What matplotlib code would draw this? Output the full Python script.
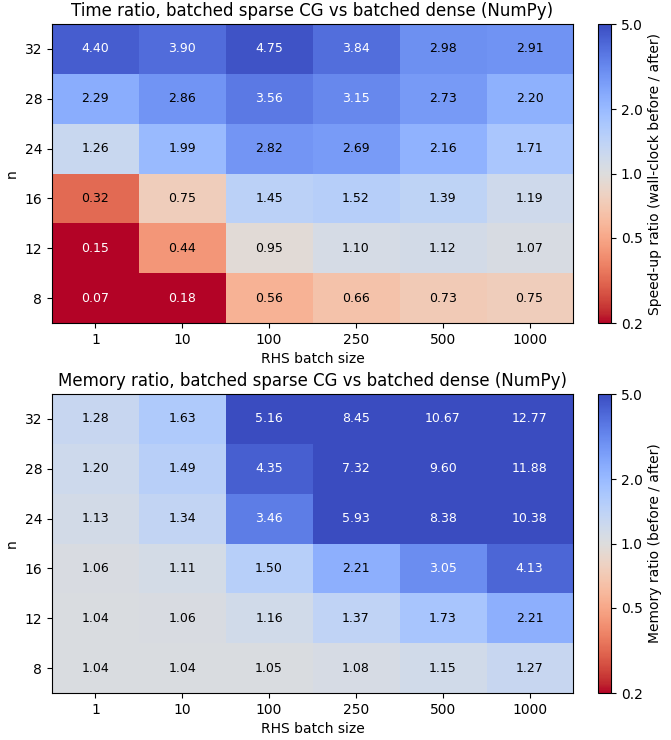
import numpy as np
import matplotlib
matplotlib.use("Agg")
import matplotlib.pyplot as plt
from matplotlib.colors import LogNorm
from matplotlib.ticker import FixedLocator, FixedFormatter

# rows: n (bottom to top), cols: RHS batch size
n_vals = [8, 12, 16, 24, 28, 32]
batch_sizes = [1, 10, 100, 250, 500, 1000]

time_ratio = [
    [0.07, 0.18, 0.56, 0.66, 0.73, 0.75],
    [0.15, 0.44, 0.95, 1.10, 1.12, 1.07],
    [0.32, 0.75, 1.45, 1.52, 1.39, 1.19],
    [1.26, 1.99, 2.82, 2.69, 2.16, 1.71],
    [2.29, 2.86, 3.56, 3.15, 2.73, 2.20],
    [4.40, 3.90, 4.75, 3.84, 2.98, 2.91],
]
mem_ratio = [
    [1.04, 1.04, 1.05, 1.08, 1.15, 1.27],
    [1.04, 1.06, 1.16, 1.37, 1.73, 2.21],
    [1.06, 1.11, 1.50, 2.21, 3.05, 4.13],
    [1.13, 1.34, 3.46, 5.93, 8.38, 10.38],
    [1.20, 1.49, 4.35, 7.32, 9.60, 11.88],
    [1.28, 1.63, 5.16, 8.45, 10.67, 12.77],
]
cbar_ticks = [0.2, 0.5, 1.0, 2.0, 5.0]

fig = plt.figure(figsize=(6.71, 7.40), dpi=100)
norm = LogNorm(vmin=0.2, vmax=5.0)

panels = [
    (time_ratio, "Time ratio, batched sparse CG vs batched dense (NumPy)",
     "Speed-up ratio (wall-clock before / after)", 0.5635),
    (mem_ratio, "Memory ratio, batched sparse CG vs batched dense (NumPy)",
     "Memory ratio (before / after)", 0.0635),
]

for data, title, clabel, bottom in panels:
    arr = np.array(data)
    ax = fig.add_axes([0.0775, bottom, 0.7765, 0.404])
    cax = fig.add_axes([0.891, bottom, 0.0195, 0.404])
    im = ax.imshow(arr, cmap="coolwarm_r", norm=norm, origin="lower", aspect="auto")
    for i in range(arr.shape[0]):
        for j in range(arr.shape[1]):
            v = arr[i, j]
            color = "white" if (v > 3 or v < 0.3) else "black"
            ax.text(j, i, f"{v:.2f}", ha="center", va="center", color=color, fontsize=9)
    ax.set_xticks(range(len(batch_sizes)))
    ax.set_xticklabels([str(b) for b in batch_sizes])
    ax.set_yticks(range(len(n_vals)))
    ax.set_yticklabels([str(n) for n in n_vals])
    ax.set_xlabel("RHS batch size")
    ax.set_ylabel("n")
    ax.set_title(title)
    cb = fig.colorbar(im, cax=cax)
    cb.set_ticks(cbar_ticks)
    cb.set_ticklabels([f"{t:.1f}" for t in cbar_ticks])
    # the top label is drawn twice in the original (major + minor at 5)
    cb.ax.yaxis.set_minor_locator(FixedLocator([5.0]))
    cb.ax.yaxis.set_minor_formatter(FixedFormatter(["5.0"]))
    cb.ax.tick_params(which="minor", length=2)
    cb.set_label(clabel)

fig.savefig("out.png", dpi=100)
